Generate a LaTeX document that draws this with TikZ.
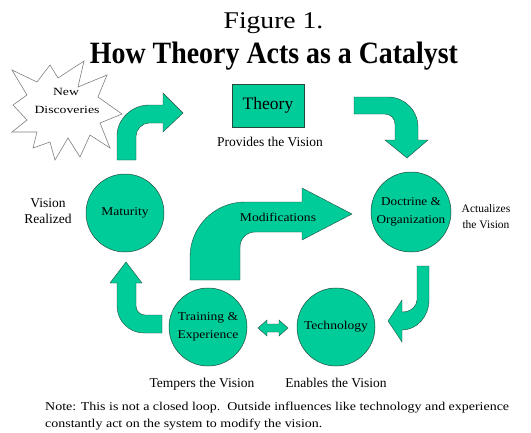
\documentclass[tikz,border=0pt]{standalone}
\usepackage{fontspec}
\setmainfont{Liberation Serif}
\usepackage{graphicx}
\definecolor{mint}{RGB}{0,204,153}
\definecolor{edgec}{RGB}{35,75,60}
\newcommand\hs[2]{\scalebox{#1}[1]{#2}}
\begin{document}
\begin{tikzpicture}[x=1pt,y=-1pt,
  blob/.style={circle, fill=mint, draw=edgec, line width=0.5pt, minimum size=78pt, inner sep=0pt, align=center, font=\fontsize{12}{18}\selectfont},
  barrow/.style={fill=mint, draw=edgec, line width=0.4pt, line join=miter},
  lbl/.style={inner sep=0pt, anchor=base, font=\fontsize{13.5}{15}\selectfont},
  small/.style={inner sep=0pt, anchor=base, font=\fontsize{11.5}{13}\selectfont},
  notes/.style={inner sep=0pt, anchor=base west, font=\fontsize{12}{13}\selectfont},
  burst/.style={fill=white, draw=black!50, line width=0.6pt, line join=miter}]
\useasboundingbox (0,0) rectangle (531,432);
\fill[white] (0,0) rectangle (531,432);

% titles
\node[inner sep=0pt, anchor=base] (fig) at (273.5,28) {\fontsize{24}{24}\selectfont\hs{1.15}{Figure 1.}};
\node[inner sep=0pt, anchor=base] (title) at (274,63) {\fontsize{31}{31}\selectfont\bfseries\hs{0.9}{How Theory Acts as a Catalyst}};

% starburst
\draw[burst] (12,70) -- (37,82) -- (50,65) -- (58,78) -- (84,61) -- (78,87) -- (107,75) -- (98,97) -- (122,114) -- (100,123) -- (110,148) -- (90,135) -- (80,157) -- (68,138) -- (55,160) -- (50,142) -- (33,148) -- (37,132) -- (12,132) -- (27,120) -- (13,105) -- (27,95) -- cycle;
\node[inner sep=0pt, anchor=base, font=\fontsize{11}{12}\selectfont] (new) at (66,95) {\hs{1.25}{New}};
\node[inner sep=0pt, anchor=base, font=\fontsize{11}{12}\selectfont] (disc) at (67,113) {\hs{1.25}{Discoveries}};

% theory box
\node[fill=mint, draw=edgec, line width=0.5pt, minimum width=72pt, minimum height=43pt, inner sep=0pt, font=\fontsize{17.5}{18}\selectfont] (theory) at (268,105.5) {Theory};
\node[lbl] (provides) at (270,146) {Provides the Vision};

% circles
\node[blob] (maturity) at (125,213) {\hs{1.13}{Maturity}};
\node[blob, minimum size=80pt] (doctrine) at (411,212) {\hs{1.1}{Doctrine \&}\\\hs{1.1}{Organization}};
\node[blob] (training) at (208,327) {\hs{1.13}{Training \&}\\\hs{1.13}{Experience}};
\node[blob] (technology) at (336,327) {\hs{1.13}{Technology}};

% side labels
\node[lbl] (vision) at (48,207) {Vision};
\node[lbl] (realized) at (48,223) {Realized};
\node[small] (actual) at (486,212) {Actualizes};
\node[small] (thevis) at (486,228) {the Vision};
\node[lbl] (tempers) at (202,387) {Tempers the Vision};
\node[lbl] (enables) at (336,387) {Enables the Vision};

% block arrows
% maturity -> theory
\draw[barrow] (117,160) -- (117,136) .. controls (117,118.9) and (131.9,105) .. (149,105) -- (163,105) -- (163,93) -- (183,113) -- (163,132) -- (163,123) -- (149,123) .. controls (142.4,123) and (136,129.4) .. (136,136) -- (136,160) -- cycle;
% theory -> doctrine
\draw[barrow] (354,97) -- (388,97) .. controls (404.6,97) and (418,110.4) .. (418,127) -- (418,140) -- (428,140) -- (407,158) -- (385,140) -- (395,140) -- (395,124) .. controls (395,118.5) and (390.5,114) .. (385,114) -- (354,114) -- cycle;
% doctrine -> technology
\draw[barrow] (417,266) -- (429,266) -- (429,300) .. controls (429,316.6) and (416.9,330) .. (402,330) -- (402,342) -- (388,321) -- (402,300) -- (402,312) .. controls (410.3,312) and (417,306.6) .. (417,300) -- cycle;
% training -> maturity
\draw[barrow] (162,315) -- (145,315) .. controls (140,315) and (136,311) .. (136,306) -- (136,283) -- (142,283) -- (126,262) -- (110,283) -- (117,283) -- (117,306) .. controls (117,320.9) and (129.1,333) .. (144,333) -- (162,333) -- cycle;
% modifications
\draw[barrow] (190,280) -- (190,257) .. controls (190,226.6) and (214.6,202) .. (245,202) -- (302,202) -- (302,188) -- (352,214) -- (302,240) -- (302,232) -- (255,232) .. controls (246.7,232) and (240,238.7) .. (240,247) -- (240,280) -- cycle;
\node[inner sep=0pt, font=\fontsize{12}{12}\selectfont] (modif) at (278,217) {\hs{1.13}{Modifications}};
% training <-> technology
\draw[barrow] (258,328) -- (267,320) -- (267,324) -- (279,324) -- (279,320) -- (288,328) -- (279,336) -- (279,332) -- (267,332) -- (267,336) -- cycle;

% note
\node[notes] (note1) at (45,410) {\hs{1.163}{Note: This is not a closed loop.\ \ Outside influences like technology and experience}};
\node[notes] (note2) at (45,427) {\hs{1.163}{constantly act on the system to modify the vision.}};
\end{tikzpicture}
\end{document}
